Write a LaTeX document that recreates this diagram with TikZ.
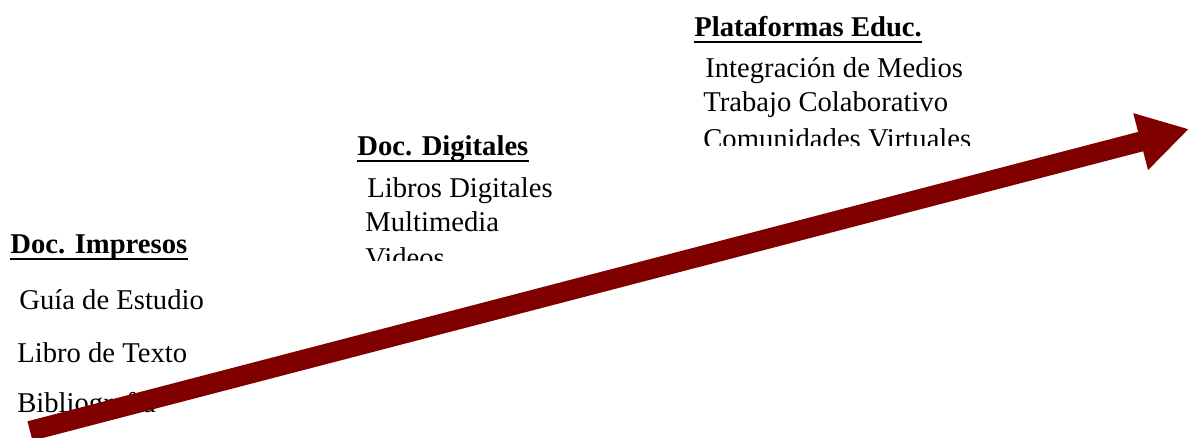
\documentclass[tikz,border=0pt]{standalone}
\usepackage{fontspec}
\setmainfont{Liberation Serif}
\usepackage{tikz}
\usetikzlibrary{arrows.meta}
\definecolor{darkred}{RGB}{128,0,0}
\tikzset{
  head/.style={anchor=base west, inner sep=0pt, font=\fontsize{16.3pt}{19pt}\selectfont\bfseries},
  item/.style={anchor=base west, inner sep=0pt, font=\fontsize{16.3pt}{19pt}\selectfont},
  uline/.style={line width=0.05cm},
}

\begin{document}
\begin{tikzpicture}[x=0.02cm,y=-0.02cm]
\useasboundingbox (0,0) rectangle (1189,438);
% doc. impresos
\node[head] (imp) at (10,254) {Doc. Impresos};
\draw[uline] ([yshift=-0.1cm]imp.base west) -- ([yshift=-0.1cm]imp.base east);
\node[item] (guia) at (19,310) {Guía de Estudio};
\node[item] (libro) at (17,363) {Libro de Texto};
\node[item] (biblio) at (17,413) {Bibliografía};
% doc. digitales
\begin{scope}
\clip (340,120) rectangle (620,261);
\node[head] (dig) at (357,156) {Doc. Digitales};
\draw[uline] ([yshift=-0.1cm]dig.base west) -- ([yshift=-0.1cm]dig.base east);
\node[item] (ldig) at (367,198) {Libros Digitales};
\node[item] (multi) at (365,232) {Multimedia};
\node[item] (videos) at (365,268) {Videos};
\end{scope}
% plataformas
\begin{scope}
\clip (680,0) rectangle (1000,146);
\node[head] (plat) at (694,37) {Plataformas Educ.};
\draw[uline] ([yshift=-0.1cm]plat.base west) -- ([yshift=-0.1cm]plat.base east);
\node[item] (integ) at (705,78) {Integración de Medios};
\node[item] (trab) at (703,112) {Trabajo Colaborativo};
\node[item] (comu) at (703,149) {Comunidades Virtuales};
\end{scope}
% arrow
\coordinate (from) at (30,431);
\coordinate (to) at (1189,129);
\draw[darkred, line width=0.4cm, -{Triangle[length=1cm,width=1.1cm]}] (from) -- (to);
\end{tikzpicture}
\end{document}
